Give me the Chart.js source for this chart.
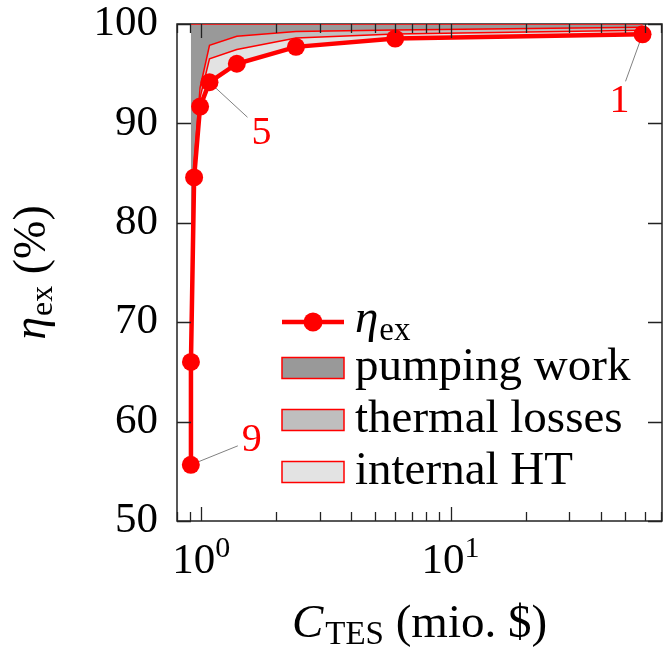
<!DOCTYPE html>
<html>
<head>
<meta charset="utf-8">
<script src="https://cdn.jsdelivr.net/npm/chart.js@4.4.1/dist/chart.umd.min.js"></script>
<style>
  html, body { margin: 0; padding: 0; background: #fff; }
  #wrap { width: 667px; height: 649px; position: relative; }
</style>
</head>
<body>
<div id="wrap"><canvas id="chart" width="667" height="649"></canvas></div>
<script>
// TES designs, cheapest first (cost in mio. $)
const costTES = [0.909, 0.91, 0.937, 0.99, 1.08, 1.39, 2.4, 6.0, 58.9];
const etaEx = [55.65, 66.0, 84.56, 91.69, 94.14, 96.0, 97.7, 98.53, 98.96];
// exergy losses, percentage points
const lossInternalHT = [0.25, 0.3, 0.75, 0.9, 2.36, 1.43, 0.9, 0.47, 0.41];
const lossThermal = [0.2, 0.3, 0.7, 1.0, 1.36, 1.33, 0.65, 0.4, 0.3];
// the rest up to 100 % is pumping work
const designLabels = ['9', '', '', '', '5', '', '', '', '1'];

const xTicks = [0.8, 0.9, 1, 2, 3, 4, 5, 6, 7, 8, 9, 10, 20, 30, 40, 50, 60, 70];
const xMajor = { 1: '0', 10: '1' };
const yTicks = [50, 60, 70, 80, 90, 100];

const RED = '#ff0000';
const FONT = '"Liberation Serif", serif';

const upperHT = etaEx.map((v, i) => v + lossInternalHT[i]);
const upperTL = upperHT.map((v, i) => v + lossThermal[i]);
const toPts = ys => costTES.map((x, i) => ({ x: x, y: ys[i] }));

// legend rows: [label, subscript, fill]
const legendRows = [
  ['η', 'ex', null],
  ['pumping work', '', '#999999'],
  ['thermal losses', '', '#bfbfbf'],
  ['internal HT', '', '#e3e3e3']
];

// callout offsets for numbered designs: leader end and text centre
const callouts = {
  '1': { end: [-17, 47], text: [-23, 67] },
  '5': { end: [38, 35], text: [52, 51] },
  '9': { end: [47, -19], text: [61, -24] }
};

function subText(ctx, x, y, main, sub, size, italic) {
  ctx.font = (italic ? 'italic ' : '') + size + 'px ' + FONT;
  ctx.fillText(main, x, y);
  let w = ctx.measureText(main).width;
  if (sub) {
    ctx.font = Math.round(size * 0.7) + 'px ' + FONT;
    ctx.fillText(sub, x + w + 1, y + size * 0.17);
    w += 1 + ctx.measureText(sub).width;
  }
  return w;
}

function textWidth(ctx, parts) {
  let w = 0;
  for (const [t, font] of parts) { ctx.font = font; w += ctx.measureText(t).width; }
  return w;
}

const decor = {
  id: 'decor',
  beforeDatasetsDraw(chart) {
    const { ctx, chartArea: a } = chart;
    const xs = chart.scales.x, ys = chart.scales.y;
    ctx.save();
    ctx.strokeStyle = '#222';
    ctx.lineWidth = 1.5;
    ctx.strokeRect(a.left, a.top, a.right - a.left, a.bottom - a.top);
    // leader lines for the numbered designs
    ctx.strokeStyle = '#808080';
    ctx.lineWidth = 1;
    designLabels.forEach((lab, i) => {
      if (!lab) return;
      const px = xs.getPixelForValue(costTES[i]), py = ys.getPixelForValue(etaEx[i]);
      const c = callouts[lab];
      ctx.beginPath();
      ctx.moveTo(px, py);
      ctx.lineTo(px + c.end[0], py + c.end[1]);
      ctx.stroke();
    });
    ctx.restore();
  },
  afterDatasetsDraw(chart) {
    const { ctx, chartArea: a } = chart;
    const xs = chart.scales.x, ys = chart.scales.y;
    ctx.save();
    ctx.strokeStyle = '#222';
    ctx.lineWidth = 1.3;
    ctx.beginPath();
    xTicks.forEach(v => {
      const px = Math.round(xs.getPixelForValue(v)) + 0.5;
      const len = xMajor[v] ? 14 : 9;
      ctx.moveTo(px, a.bottom); ctx.lineTo(px, a.bottom - len);
      ctx.moveTo(px, a.top); ctx.lineTo(px, a.top + len);
    });
    yTicks.forEach(v => {
      const py = Math.round(ys.getPixelForValue(v)) + 0.5;
      ctx.moveTo(a.left, py); ctx.lineTo(a.left + 14, py);
      ctx.moveTo(a.right, py); ctx.lineTo(a.right - 14, py);
    });
    ctx.stroke();

    // numbers next to the designs
    ctx.fillStyle = RED;
    ctx.font = '40px ' + FONT;
    ctx.textAlign = 'center';
    ctx.textBaseline = 'middle';
    designLabels.forEach((lab, i) => {
      if (!lab) return;
      const px = xs.getPixelForValue(costTES[i]), py = ys.getPixelForValue(etaEx[i]);
      const c = callouts[lab];
      ctx.fillText(lab, px + c.text[0], py + c.text[1]);
    });
    ctx.restore();
  },
  afterDraw(chart) {
    const { ctx, chartArea: a } = chart;
    const xs = chart.scales.x;
    ctx.save();
    ctx.fillStyle = '#000';
    ctx.textBaseline = 'alphabetic';
    ctx.textAlign = 'left';

    // x tick labels 10^n
    const big = '43px ' + FONT, small = '30px ' + FONT;
    Object.keys(xMajor).forEach(k => {
      const px = xs.getPixelForValue(Number(k));
      const w = textWidth(ctx, [['10', big], [xMajor[k], small]]);
      let x0 = px - w / 2;
      ctx.font = big; ctx.fillText('10', x0, a.bottom + 52);
      x0 += ctx.measureText('10').width;
      ctx.font = small; ctx.fillText(xMajor[k], x0, a.bottom + 36);
    });

    // x axis title
    {
      const parts = [['C', 'italic 47px ' + FONT], ['TES', '33px ' + FONT], [' (mio. $)', '47px ' + FONT]];
      const w = textWidth(ctx, parts) + 2;
      let x0 = (a.left + a.right) / 2 - w / 2;
      const base = 637;
      ctx.font = parts[0][1]; ctx.fillText('C', x0, base); x0 += ctx.measureText('C').width + 2;
      ctx.font = parts[1][1]; ctx.fillText('TES', x0, base + 7); x0 += ctx.measureText('TES').width;
      ctx.font = parts[2][1]; ctx.fillText(' (mio. $)', x0, base);
    }

    // y axis title, rotated
    {
      const parts = [['η', 'italic 46px ' + FONT], ['ex', '32px ' + FONT], [' (%)', '46px ' + FONT]];
      const w = textWidth(ctx, parts) + 1;
      ctx.translate(45, (a.top + a.bottom) / 2);
      ctx.rotate(-Math.PI / 2);
      let x0 = -w / 2;
      ctx.font = parts[0][1]; ctx.fillText('η', x0, 0); x0 += ctx.measureText('η').width + 1;
      ctx.font = parts[1][1]; ctx.fillText('ex', x0, 7); x0 += ctx.measureText('ex').width;
      ctx.font = parts[2][1]; ctx.fillText(' (%)', x0, 0);
      ctx.setTransform(1, 0, 0, 1, 0, 0);
    }

    // legend box inside the plot area
    const lx = a.right - 380, tx = a.right - 307;
    const rowY = [a.bottom - 199, a.bottom - 153, a.bottom - 101, a.bottom - 49];
    legendRows.forEach((r, i) => {
      const cy = rowY[i];
      if (!r[2]) {
        ctx.strokeStyle = RED; ctx.lineWidth = 4.5;
        ctx.beginPath(); ctx.moveTo(lx, cy); ctx.lineTo(lx + 62, cy); ctx.stroke();
        ctx.fillStyle = RED;
        ctx.beginPath(); ctx.arc(lx + 31, cy, 9.5, 0, Math.PI * 2); ctx.fill();
        ctx.fillStyle = '#000';
        subText(ctx, tx, cy + 10, r[0], r[1], 47, true);
      } else {
        ctx.fillStyle = r[2];
        ctx.fillRect(lx, cy - 10.5, 62, 21);
        ctx.strokeStyle = RED; ctx.lineWidth = 1.5;
        ctx.strokeRect(lx, cy - 10.5, 62, 21);
        ctx.fillStyle = '#000';
        ctx.font = '47px ' + FONT;
        ctx.fillText(r[0], tx, cy + 12);
      }
    });
    ctx.restore();
  }
};

new Chart(document.getElementById('chart'), {
  type: 'line',
  data: {
    datasets: [
      {
        label: 'ηex',
        data: toPts(etaEx),
        borderColor: RED,
        borderWidth: 4.5,
        pointRadius: 9,
        pointBackgroundColor: RED,
        pointBorderWidth: 0,
        fill: false,
        tension: 0
      },
      {
        label: 'internal HT',
        data: toPts(upperHT),
        borderColor: RED,
        borderWidth: 1.5,
        pointRadius: 0,
        backgroundColor: '#e3e3e3',
        fill: '-1',
        tension: 0
      },
      {
        label: 'thermal losses',
        data: toPts(upperTL),
        borderColor: RED,
        borderWidth: 1.5,
        pointRadius: 0,
        backgroundColor: '#bfbfbf',
        fill: '-1',
        tension: 0
      },
      {
        label: 'pumping work',
        data: toPts(costTES.map(() => 100)),
        borderColor: RED,
        borderWidth: 1.5,
        pointRadius: 0,
        backgroundColor: '#999999',
        fill: '-1',
        tension: 0
      }
    ]
  },
  options: {
    responsive: false,
    animation: false,
    layout: { autoPadding: false, padding: { left: 0, right: 5, top: 24, bottom: 0 } },
    plugins: {
      legend: { display: false },
      tooltip: { enabled: false }
    },
    scales: {
      x: {
        type: 'logarithmic',
        min: 0.8,
        max: 70.5,
        afterBuildTicks: s => { s.ticks = xTicks.map(v => ({ value: v })); },
        afterFit: s => { s.height = 128; s.paddingLeft = 0; s.paddingRight = 0; },
        ticks: { display: false },
        grid: { display: false },
        border: { display: false }
      },
      y: {
        min: 50,
        max: 100,
        afterBuildTicks: s => { s.ticks = yTicks.map(v => ({ value: v })); },
        afterFit: s => { s.width = 177; s.paddingTop = 0; s.paddingBottom = 0; },
        ticks: { color: '#000', padding: 11, font: { family: 'Liberation Serif', size: 43 } },
        grid: { display: false },
        border: { display: false }
      }
    }
  },
  plugins: [decor]
});
</script>
</body>
</html>
